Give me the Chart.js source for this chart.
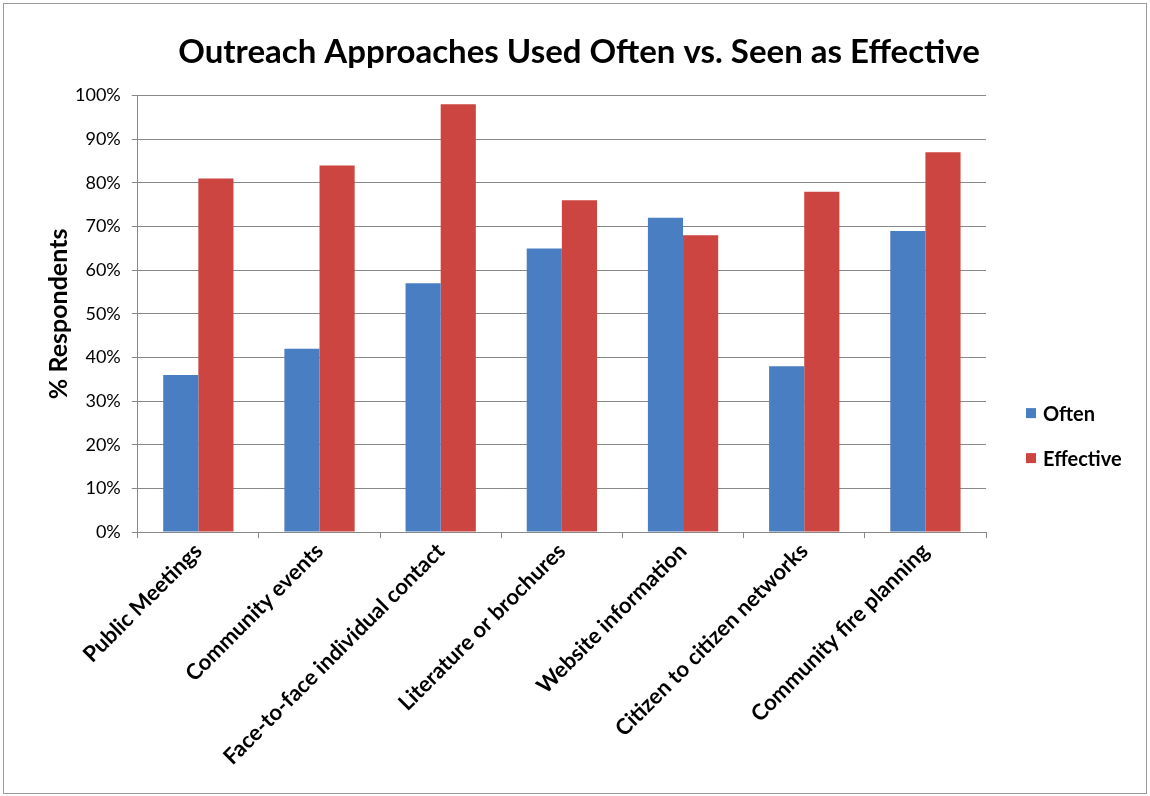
<!DOCTYPE html>
<html>
<head>
<meta charset="utf-8">
<script src="https://cdn.jsdelivr.net/npm/chart.js@4"></script>
<style>
  html, body { margin: 0; padding: 0; background: #fff; }
  #wrap { position: absolute; left: 3px; top: 3px; width: 1142px; height: 789px; border: 1px solid #9a9a9a; }
  canvas { display: block; }
</style>
</head>
<body>
<div id="wrap"><canvas id="chart_bar" width="1142" height="789"></canvas></div>
<script>
// ----------------------------------------------------------------------
//  data
// ----------------------------------------------------------------------
var categories = ["Public Meetings", "Community events", "Face-to-face individual contact",
  "Literature or brochures", "Website information", "Citizen to citizen networks", "Community fire planning"];
var often = [36, 42, 57, 65, 72, 38, 69];
var effective = [81, 84, 98, 76, 68, 78, 87];
var yTicks = [0, 10, 20, 30, 40, 50, 60, 70, 80, 90, 100];

var FONT = "Lato, 'Open Sans', sans-serif";

// legend drawn by hand, to the right of the plot, a bit below centre
var sideLegend = {
  id: 'sideLegend',
  afterDraw: function (chart) {
    var c = chart.ctx, area = chart.chartArea;
    var x = area.right + 40, y = area.bottom - 118;
    c.save();
    c.font = "bold 20px " + FONT;
    c.textBaseline = 'middle';
    chart.data.datasets.forEach(function (ds, i) {
      var yy = y + i * 45;
      c.fillStyle = ds.backgroundColor;
      c.fillRect(x, yy - 6, 10, 10);
      c.fillStyle = "#000";
      c.fillText(ds.label, x + 17, yy);
    });
    c.restore();
  }
};

// ----------------------------------------------------------------------
//  bar
// ----------------------------------------------------------------------
window.onload = function () {
  var ctx = document.getElementById('chart_bar').getContext('2d');
  var config = {
    type: 'bar',
    data: {
      labels: categories,
      datasets: [
        { label: "Often", backgroundColor: "#4a7ec2", data: often,
          barPercentage: 1, categoryPercentage: 0.58 },
        { label: "Effective", backgroundColor: "#cd4541", data: effective,
          barPercentage: 1, categoryPercentage: 0.58 }
      ]
    },
    plugins: [sideLegend],
    options: {
      responsive: false,
      animation: false,
      layout: { padding: { left: 8, right: 0, top: 29, bottom: 23 } },
      plugins: {
        title: {
          display: true,
          text: "Outreach Approaches Used Often vs. Seen as Effective",
          color: "#000",
          font: { family: FONT, size: 33, weight: 'bold' },
          padding: { top: 0, bottom: 23 }
        },
        legend: { display: false },
        tooltip: { enabled: false }
      },
      scales: {
        x: {
          grid: { drawOnChartArea: false, drawTicks: true, tickLength: 6, color: "#888" },
          border: { color: "#888" },
          ticks: {
            color: "#000",
            font: { family: FONT, size: 22, weight: 'bold' },
            minRotation: 45, maxRotation: 45, autoSkip: false, padding: 0
          }
        },
        y: {
          min: 0, max: 100,
          afterBuildTicks: function (axis) {
            axis.ticks = yTicks.map(function (v) { return { value: v }; });
          },
          grid: { color: "#888", tickLength: 6 },
          border: { color: "#888" },
          ticks: {
            color: "#000",
            font: { family: FONT, size: 18 },
            padding: 11,
            callback: function (v) { return v + "%"; }
          },
          title: {
            display: true,
            text: "% Respondents",
            color: "#000",
            font: { family: FONT, size: 25, weight: 'bold' },
            padding: { top: 32, bottom: -10 }
          }
        },
        // empty right-hand strip that keeps room for the legend
        side: {
          type: 'linear',
          position: 'right',
          display: true,
          grid: { display: false },
          border: { display: false },
          ticks: { display: false },
          afterFit: function (s) { s.width = 160; }
        }
      }
    }
  };
  var myChart = new Chart(ctx, config);
};
</script>
</body>
</html>
